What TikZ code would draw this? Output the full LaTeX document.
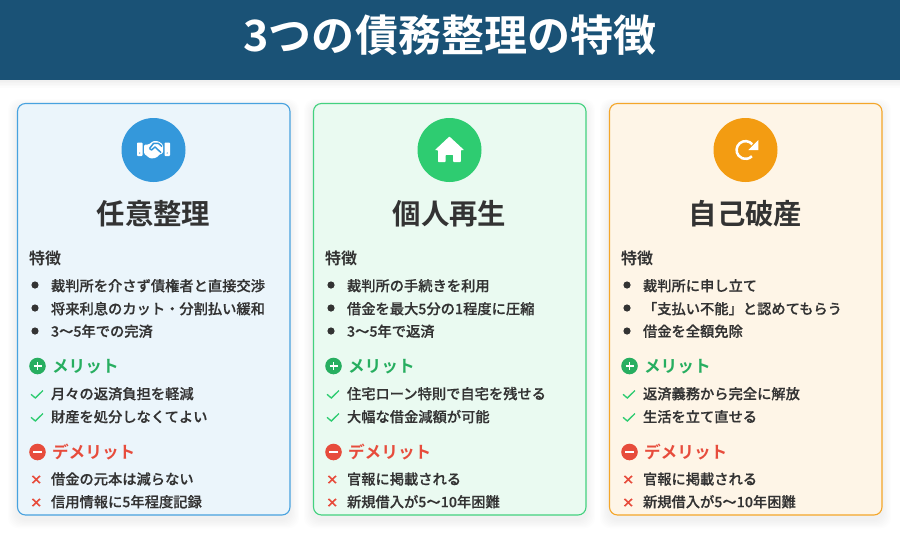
\documentclass[tikz,border=0pt]{standalone}
\usepackage{fontspec}
\setmainfont{Noto Sans CJK JP}[BoldFont=* Bold]
\newfontfamily\medfont{Noto Sans CJK JP Medium}[UprightFeatures={FakeBold=0.35}]
\definecolor{hdr}{HTML}{1A5276}
\definecolor{ink}{HTML}{333333}
\definecolor{cblue}{HTML}{3498DB}\definecolor{fblue}{HTML}{EBF5FB}
\definecolor{cgreen}{HTML}{2ECC71}\definecolor{fgreen}{HTML}{EAFAF1}
\definecolor{corange}{HTML}{F39C12}\definecolor{forange}{HTML}{FEF5E7}
\definecolor{mer}{HTML}{27AE60}\definecolor{dem}{HTML}{E74C3C}
\tikzset{
  x=0.75pt,y=-0.75pt,
  txt/.style={anchor=west,inner sep=0pt,outer sep=0pt,yshift=-1pt},
  item/.style={txt,text=ink,font=\medfont\fontsize{10.7}{12}\selectfont,text height=8.5pt,text depth=2.1pt},
  head/.style={txt,text=ink,font=\bfseries\fontsize{12}{14}\selectfont,text height=9.4pt,text depth=2.4pt},
  sect/.style={txt,font=\bfseries\fontsize{12.5}{14}\selectfont,text height=9.9pt,text depth=2.5pt},
  cardtitle/.style={anchor=center,inner sep=0pt,text=ink,font=\bfseries\fontsize{21.3}{24}\selectfont},
  tick/.style={draw=cgreen,line width=1pt,fill=none},
  cross/.style={draw=dem,line width=1.2pt},
}
\newcommand\cardbox[2]{% border, fill
  \foreach \g in {1,...,7}{
    \fill[black,opacity=0.007,rounded corners=8pt]
      ({17-\g*1.3},{103+3-\g*1.0}) rectangle ({290+\g*1.3},{515+5+\g*1.2});}
  \filldraw[draw=#1!90!white,fill=#2,line width=0.85pt,rounded corners=6pt] (17.5,103.5) rectangle (290,515);
  \fill[#1] (153.5,150) circle[radius=32];
}
\newcommand\cardtext[5]{% prefix,title,f1,f2,f3
  \node[cardtitle] (#1title) at (153.5,214) {#2};
  \node[head] (#1feat) at (29,258) {特徴};
  \foreach \yy in {285,308,331}{\fill[ink] (35,\yy) circle[radius=3.6];}
  \node[item] (#1f1) at (51,285.5) {#3};
  \node[item] (#1f2) at (51,308.5) {#4};
  \node[item] (#1f3) at (51,331) {#5};
}
\newcommand\cardpros[5]{% prefix,m1,m2,d1,d2
  \fill[mer] (37.5,366) circle[radius=8.3];
  \draw[white,line width=1.4pt] (33.5,366) -- (41.5,366) (37.5,362) -- (37.5,370);
  \node[sect,text=mer] (#1mer) at (52,366) {メリット};
  \foreach \yy in {394,417}{\draw[tick] (31,{\yy+0.3}) -- (35.3,{\yy+4}) -- (43,{\yy-3.5});}
  \node[item] (#1m1) at (51,393.5) {#2};
  \node[item] (#1m2) at (51,416.5) {#3};
  \fill[dem] (37.5,452) circle[radius=8.3];
  \draw[white,line width=1.6pt] (33,452) -- (42,452);
  \node[sect,text=dem] (#1dem) at (52,452) {デメリット};
  \foreach \yy in {479.5,502.5}{\draw[cross] (32.5,{\yy-3.6}) -- (40,{\yy+3.6}) (40,{\yy-3.6}) -- (32.5,{\yy+3.6});}
  \node[item] (#1d1) at (51,478.8) {#4};
  \node[item] (#1d2) at (51,501.6) {#5};
}
\begin{document}
\begin{tikzpicture}
\useasboundingbox (0,0) rectangle (900,536);
\fill[white] (0,0) rectangle (900,536);
% header shadow and band
\foreach \g in {1,...,5}{\fill[black,opacity=0.012] (0,80) rectangle (900,{80+\g*1.6});}
\fill[hdr] (0,0) rectangle (900,80);
\node[inner sep=0pt,text=white,font=\bfseries\fontsize{32.3}{36}\selectfont] (maintitle) at (450,35) {3つの債務整理の特徴};
% card 1
\begin{scope}
  \cardbox{cblue}{fblue}
  % handshake
  \fill[white,rounded corners=0.6pt] (137,142.5) rectangle (142.5,156);
  \fill[white,rounded corners=0.6pt] (164.5,142.5) rectangle (170,156);
  \fill[cblue] (139.7,153) circle[radius=0.7] (167.2,153) circle[radius=0.7];
  \fill[white,rounded corners=1pt] (144,144.5) -- (149,144.5) -- (153,141) -- (158,141) -- (163,144.5) -- (163,153.5) -- (160,154) -- (156,158) -- (150,158.5) -- (146,155) -- (144,154) -- cycle;
  \draw[cblue,line width=1.1pt,line join=round] (149.5,148.5) -- (153.5,143.4) -- (158.5,143.4) -- (162,146.5);
  \draw[cblue,line width=1.1pt,line join=round] (149.5,148.5) -- (151.5,150) -- (155,147) -- (161,152.6);
  \cardtext{a}{任意整理}{裁判所を介さず債権者と直接交渉}{将来利息のカット・分割払い緩和}{3～5年での完済}
  \cardpros{a}{月々の返済負担を軽減}{財産を処分しなくてよい}{借金の元本は減らない}{信用情報に5年程度記録}
\end{scope}
% card 2
\begin{scope}[shift={(296,0)}]
  \cardbox{cgreen}{fgreen}
  \fill[white,rounded corners=0.5pt] (153.4,136.5) -- (168.2,150.2) -- (164.8,150.2) -- (164.8,162) -- (157.2,162) -- (157.2,154.8) -- (149.6,154.8) -- (149.6,162) -- (142,162) -- (142,150.2) -- (138.8,150.2) -- cycle;
  \cardtext{b}{個人再生}{裁判所の手続きを利用}{借金を最大5分の1程度に圧縮}{3～5年で返済}
  \cardpros{b}{住宅ローン特則で自宅を残せる}{大幅な借金減額が可能}{官報に掲載される}{新規借入が5～10年困難}
\end{scope}
% card 3
\begin{scope}[shift={(592,0)}]
  \cardbox{corange}{forange}
  \draw[white,line width=1.9pt] (160.3,144.3) arc[start angle=-40,end angle=-316,radius=8.9];
  \fill[white] (166.3,140) -- (166.3,150) -- (156.3,150) -- cycle;
  \cardtext{c}{自己破産}{裁判所に申し立て}{「支払い不能」と認めてもらう}{借金を全額免除}
  \cardpros{c}{返済義務から完全に解放}{生活を立て直せる}{官報に掲載される}{新規借入が5～10年困難}
\end{scope}
\end{tikzpicture}
\end{document}
